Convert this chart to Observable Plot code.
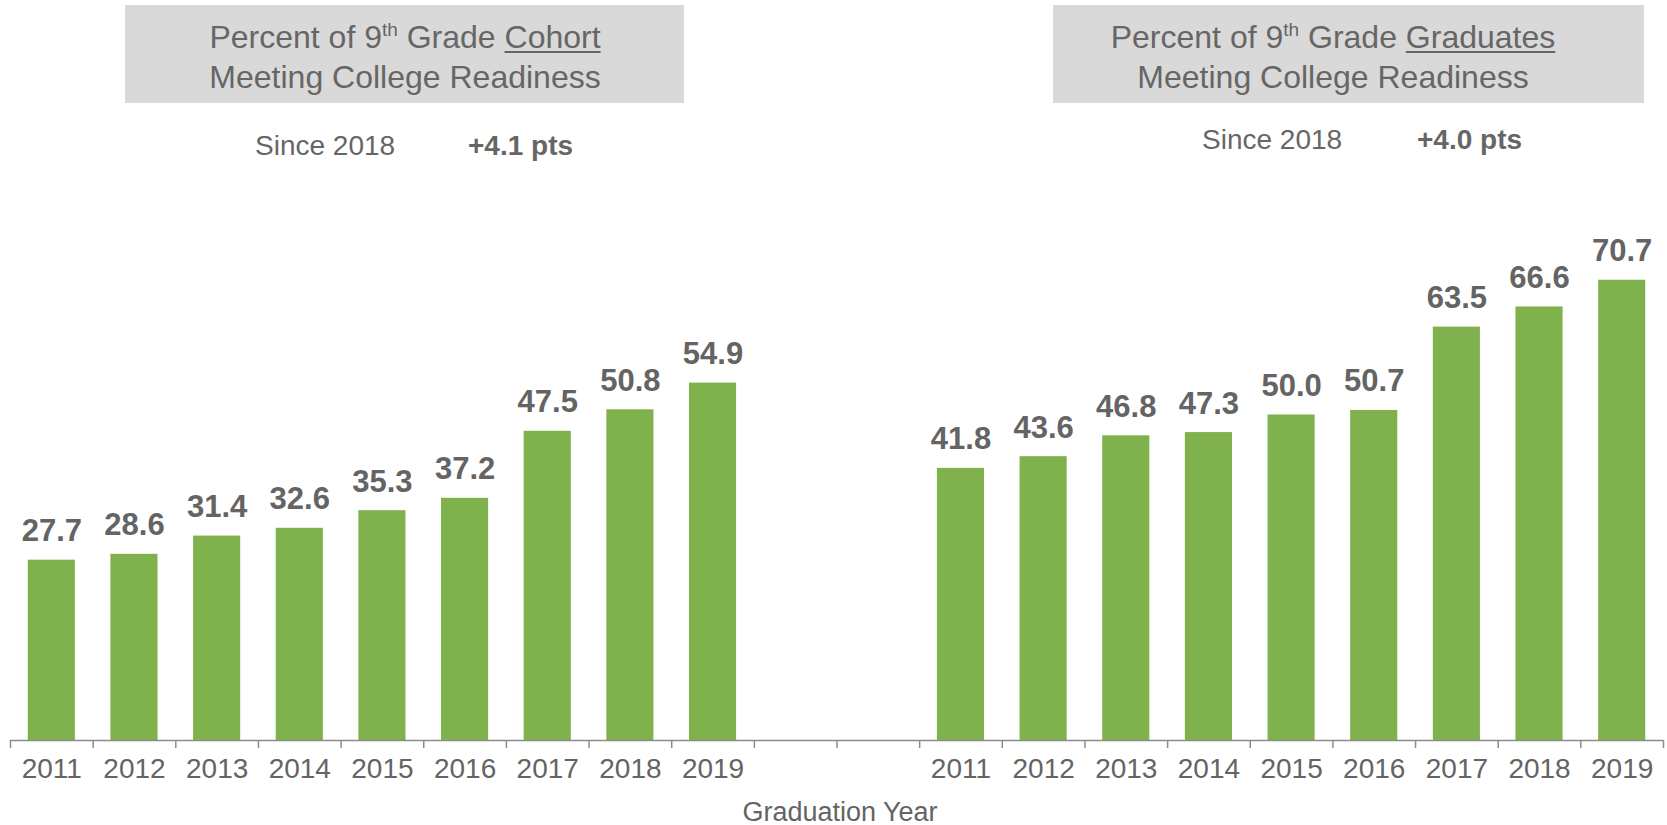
<!DOCTYPE html>
<html>
<head>
<meta charset="utf-8">
<script src="https://cdn.jsdelivr.net/npm/d3@7"></script>
<script src="https://cdn.jsdelivr.net/npm/@observablehq/plot@0.6"></script>
<style>
  html, body { margin: 0; padding: 0; background: #fff; }
  #wrap { position: relative; width: 1667px; height: 825px; overflow: hidden; font-family: "Liberation Sans", Arial, sans-serif; color: #666; }
  .box { position: absolute; background: #d9d9d9; }
  .hdr { position: absolute; font-size: 32px; line-height: 40px; text-align: center; white-space: nowrap; color: #666; }
  .hdr u { text-decoration-thickness: 2px; text-underline-offset: 3px; }
  .hdr sup { font-size: 19px; line-height: 0; vertical-align: 12px; }
  .since { position: absolute; font-size: 28px; line-height: 28px; white-space: nowrap; color: #666; }
  .since b { font-weight: bold; }
  #chart { position: absolute; left: 0; top: 0; }
</style>
</head>
<body>
<div id="wrap">
  <div class="box" style="left:125px; top:5px; width:559px; height:98px;"></div>
  <div class="hdr" style="left:105px; width:600px; top:17px;">Percent of 9<sup>th</sup> Grade <u>Cohort</u><br>Meeting College Readiness</div>
  <div class="box" style="left:1053px; top:5px; width:591px; height:98px;"></div>
  <div class="hdr" style="left:1033px; width:600px; top:17px;">Percent of 9<sup>th</sup> Grade <u>Graduates</u><br>Meeting College Readiness</div>
  <div class="since" style="left:255px; top:132px;">Since 2018</div>
  <div class="since" style="left:468px; top:132px;"><b>+4.1 pts</b></div>
  <div class="since" style="left:1202px; top:126px;">Since 2018</div>
  <div class="since" style="left:1417px; top:126px;"><b>+4.0 pts</b></div>
  <div id="chart"></div>
</div>
<script>
const years = [2011, 2012, 2013, 2014, 2015, 2016, 2017, 2018, 2019];
const cohort = [27.7, 28.6, 31.4, 32.6, 35.3, 37.2, 47.5, 50.8, 54.9];
const graduates = [41.8, 43.6, 46.8, 47.3, 50.0, 50.7, 63.5, 66.6, 70.7];
const gaps = ["gap1", "gap2"];
const axisTitle = "Graduation Year";

const data = [
  ...years.map((yr, i) => ({key: "C" + yr, value: cohort[i]})),
  ...years.map((yr, i) => ({key: "G" + yr, value: graduates[i]}))
];
const domain = [...years.map(y => "C" + y), ...gaps, ...years.map(y => "G" + y)];

const W = 1667, H = 825, ML = 10, MR = 4;
const step = (W - ML - MR) / domain.length;
const green = "#7fb24c";
const gray = "#646464";

const chart = Plot.plot({
  width: W,
  height: H,
  marginLeft: ML,
  marginRight: MR,
  marginTop: 89,
  marginBottom: 85,
  style: {fontFamily: "'Liberation Sans', Arial, sans-serif", color: gray, background: "transparent", overflow: "visible"},
  x: {type: "band", domain, paddingInner: 0.43, paddingOuter: 0.215, round: false, label: null},
  y: {domain: [0, 100], axis: null},
  marks: [
    Plot.barY(data, {x: "key", y: "value", fill: green}),
    Plot.text(data, {x: "key", y: "value", text: d => d.value.toFixed(1), dy: -19, lineAnchor: "bottom", fontSize: 31, fontWeight: "bold", fill: gray}),
    Plot.ruleY([0], {stroke: "#8c8c8c", strokeWidth: 1.5}),
    Plot.axisX({ticks: domain, tickSize: 8, tickFormat: () => "", stroke: "#8c8c8c", strokeWidth: 1.5, dx: -step / 2}),
    Plot.axisX({ticks: [domain[domain.length - 1]], tickSize: 8, tickFormat: () => "", stroke: "#8c8c8c", strokeWidth: 1.5, dx: step / 2}),
    Plot.axisX({ticks: domain, tickSize: 0, tickPadding: 18, fontSize: 28, fill: gray,
      tickFormat: d => d.startsWith("gap") ? "" : d.slice(1)}),
    Plot.text([axisTitle], {text: d => d, frameAnchor: "bottom", dy: 80, dx: 3, lineAnchor: "bottom", fontSize: 27, fill: gray})
  ]
});
document.getElementById("chart").appendChild(chart);
</script>
</body>
</html>
